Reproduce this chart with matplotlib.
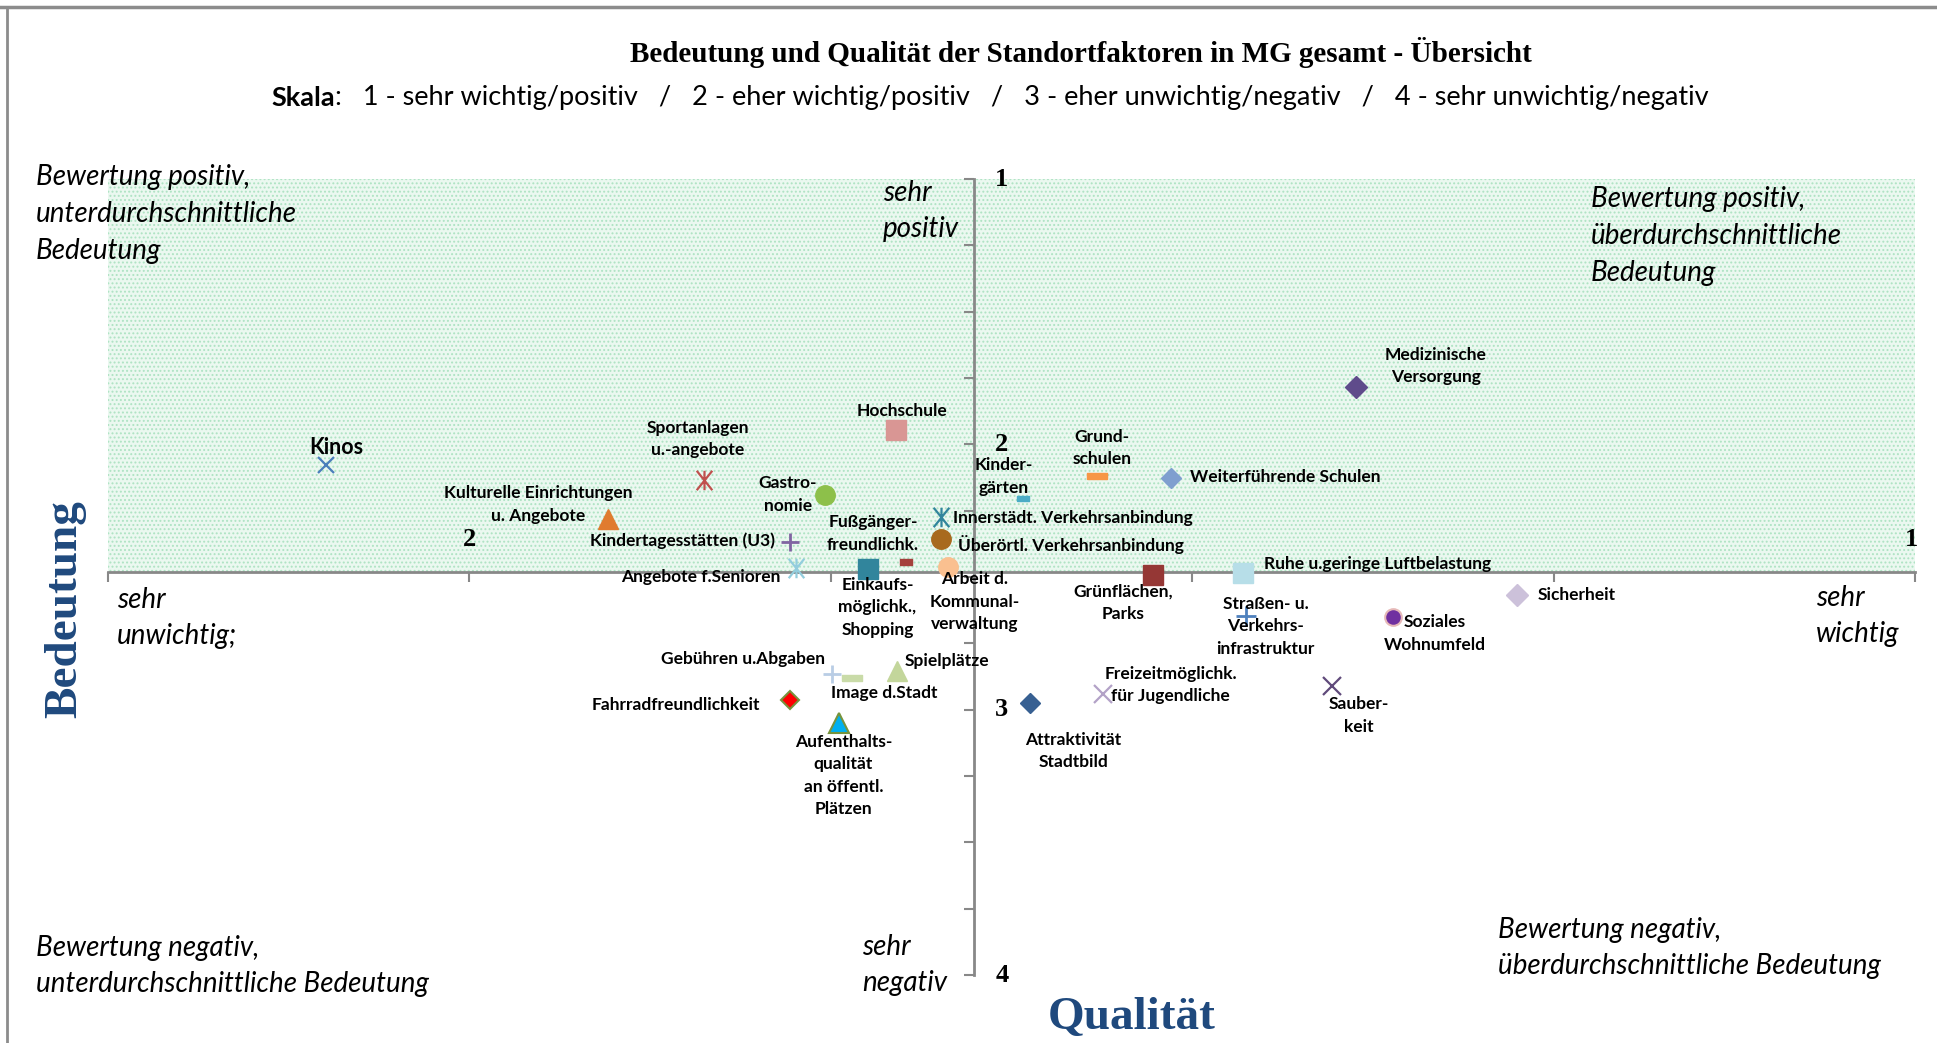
import numpy as np
import matplotlib
matplotlib.use("Agg")
import matplotlib.pyplot as plt
from matplotlib.lines import Line2D
from matplotlib.path import Path

# Standortfaktoren: Bedeutung (x, 1 = sehr wichtig) und Qualität (y, 1 = sehr positiv)
names = [
    "Kinos", "Sportanlagen\nu.-angebote", "Kulturelle Einrichtungen\nu. Angebote", "Hochschule",
    "Gastro-\nnomie", "Kindertagesstätten (U3)", "Angebote f.Senioren", "Fußgänger-\nfreundlichk.",
    "Einkaufs-\nmöglichk.,\nShopping", "Innerstädt. Verkehrsanbindung", "Überörtl. Verkehrsanbindung",
    "Arbeit d.\nKommunal-\nverwaltung", "Kinder-\ngärten", "Grund-\nschulen", "Weiterführende Schulen",
    "Medizinische\nVersorgung", "Grünflächen,\nParks", "Ruhe u.geringe Luftbelastung", "Sicherheit",
    "Straßen- u.\nVerkehrs-\ninfrastruktur", "Soziales\nWohnumfeld", "Sauber-\nkeit",
    "Freizeitmöglichk.\nfür Jugendliche", "Attraktivität\nStadtbild", "Spielplätze", "Image d.Stadt",
    "Gebühren u.Abgaben", "Fahrradfreundlichkeit", "Aufenthalts-\nqualität\nan öffentl.\nPlätzen",
]
bedeutung = [
    2.099, 1.838, 1.904, 1.705, 1.754, 1.778, 1.774, 1.698, 1.724, 1.674, 1.674, 1.669, 1.617,
    1.566, 1.515, 1.387, 1.527, 1.465, 1.275, 1.463, 1.361, 1.403, 1.562, 1.612, 1.704, 1.735,
    1.749, 1.778, 1.744,
]
qualitaet = [
    2.078, 2.134, 2.283, 1.947, 2.190, 2.367, 2.465, 2.442, 2.470, 2.274, 2.358, 2.461, 2.204,
    2.120, 2.125, 1.784, 2.493, 2.484, 2.568, 2.647, 2.652, 2.909, 2.941, 2.974, 2.853, 2.881,
    2.867, 2.965, 3.049,
]
# Mittelwerte, an denen sich die Achsen kreuzen
mean_bedeutung = 1.651
mean_qualitaet = 2.481

# rectangular "dash" markers of different proportions
dash = [(-1, -0.45), (1, -0.45), (1, 0.45), (-1, 0.45), (-1, -0.45)]
flat = [(-1, -0.3), (1, -0.3), (1, 0.3), (-1, 0.3), (-1, -0.3)]
# Excel-style star: an x with a vertical stroke
star = Path([(-0.8, -1), (0.8, 1), (-0.8, 1), (0.8, -1), (0, -1), (0, 1)],
            [Path.MOVETO, Path.LINETO] * 3)

markers = ["x", star, "^", "s", "o", "+", star, dash, "s", star, "o", "o", dash, flat, "D",
           "D", "s", "s", "D", "+", "o", "x", "x", "D", "^", flat, "+", "D", "^"]
colors = ["#4A7EBB", "#C0504D", "#E07B2F", "#D99694", "#8DC04A", "#8064A2", "#93CDDD", "#A5403D",
          "#31859C", "#31859C", "#A86A1E", "#FAC090", "#4BACC6", "#F79646", "#7F9FCF",
          "#5F4B8B", "#953735", "#B7DEE8", "#CCC1DA", "#4F81BD", "#7030A0", "#604A7B",
          "#B3A2C7", "#376092", "#C3D69B", "#C9DBA8", "#B9CDE5", "#FF0000", "#00B0F0"]
edges = list(colors)
edges[20] = "#E6B9B8"
edges[27] = "#77933C"
edges[28] = "#77933C"
sizes = [12, 14, 14, 14, 14, 13, 14, 9, 14, 14, 14, 14, 8, 15, 10,
         11, 14, 14, 11, 14, 12, 13, 13, 10, 14, 15, 13, 9, 14]
mew = [1.6, 1.6, 1, 1, 1, 2, 1.6, 1, 1, 1.6, 1, 1, 1, 1, 1,
       1, 1, 1, 1, 2, 1.5, 1.6, 1.6, 1, 1, 1, 2, 1.5, 1.5]

# label offsets in pixels and horizontal alignment
offsets = [(10, 18), (-6, 41), (-70, 15), (6, 19), (-37, 0), (-15, 1), (-16, -9), (-33, 28),
           (9, -38), (12, -1), (17, -5), (27, -35), (-19, 22), (5, 28), (19, 0),
           (80, 21), (-30, -28), (21, 9), (20, 0), (20, -10), (42, -16), (26, -30),
           (68, 9), (43, -48), (7, 10), (32, -15), (-7, 15), (-30, -5), (4, -53)]
aligns = ["center", "center", "center", "center", "center", "right", "right", "center",
          "center", "left", "left", "center", "center", "center", "left",
          "center", "center", "left", "left", "center", "center", "center",
          "center", "center", "left", "center", "right", "right", "center"]

label_font = ["Lato", "DejaVu Sans"]
serif = ["Liberation Serif", "DejaVu Serif"]
axis_grey = "#888888"
title_blue = "#1F497D"

W, H = 1937, 1043
fig = plt.figure(figsize=(W / 100, H / 100), dpi=100)
ax = fig.add_axes([108 / W, 1 - 975 / H, (1915 - 108) / W, (975 - 179) / H])
ax.set_xlim(2.25, 1.0)
ax.set_ylim(4.0, 1.0)

# upper half (above-average quality) shaded
plt.rcParams["hatch.linewidth"] = 0.9
ax.axhspan(1.0, mean_qualitaet, facecolor="#ebf8f0", edgecolor="#aee3c3", hatch="....",
           linewidth=0, zorder=0)

for s in ["top", "right"]:
    ax.spines[s].set_visible(False)
ax.spines["left"].set_position(("data", mean_bedeutung))
ax.spines["bottom"].set_position(("data", mean_qualitaet))
for s in ["left", "bottom"]:
    ax.spines[s].set_color(axis_grey)
    ax.spines[s].set_linewidth(2)
ax.set_xticks(np.arange(1.0, 2.26, 0.25))
ax.set_yticks(np.arange(1.0, 4.01, 0.25))
ax.set_xticklabels([])
ax.set_yticklabels([])
ax.tick_params(direction="out", length=7, width=1.5, color=axis_grey)

# scale numbers
for v in [2, 1]:
    ax.annotate(str(v), (v, mean_qualitaet), xytext=(-3 if v == 1 else 0, 32),
                textcoords="offset pixels", ha="center", va="center",
                fontsize=19, fontweight="bold", family=serif)
for v in [1, 2, 3, 4]:
    ax.annotate(str(v), (mean_bedeutung, v), xytext=(28, 0), textcoords="offset pixels",
                ha="center", va="center", fontsize=19, fontweight="bold", family=serif)

for i in range(len(names)):
    ax.plot(bedeutung[i], qualitaet[i], linestyle="none", marker=markers[i],
            markersize=sizes[i], color=colors[i], markeredgecolor=edges[i],
            markeredgewidth=mew[i], zorder=3)
    ax.annotate(names[i], (bedeutung[i], qualitaet[i]), xytext=offsets[i],
                textcoords="offset pixels", ha=aligns[i], va="center",
                multialignment="center", fontsize=15.5 if i == 0 else 12.5,
                fontweight="bold", family=label_font, linespacing=1.5, zorder=4)

# titles
fig.text(1081 / W, 1 - 53 / H, "Bedeutung und Qualität der Standortfaktoren in MG gesamt - Übersicht",
         ha="center", va="center", fontsize=21, fontweight="bold", family=serif)
fig.text(335 / W, 1 - 98 / H, "Skala", ha="right", va="center", fontsize=19.5,
         fontweight="bold", family=label_font)
fig.text(335 / W, 1 - 98 / H,
         ":   1 - sehr wichtig/positiv   /   2 - eher wichtig/positiv   /   "
         "3 - eher unwichtig/negativ   /   4 - sehr unwichtig/negativ",
         ha="left", va="center", fontsize=19.5, family=label_font)

fig.text(65 / W, 1 - 609 / H, "Bedeutung", rotation=90, ha="center", va="center",
         fontsize=34, fontweight="bold", color=title_blue, family=serif)
fig.text(1132 / W, 1 - 1018 / H, "Qualität", ha="center", va="center",
         fontsize=34, fontweight="bold", color=title_blue, family=serif)

# quadrant and scale end notes (left edge, vertical centre of the block)
notes = [
    (36, 214, "Bewertung positiv,\nunterdurchschnittliche\nBedeutung"),
    (1591, 236, "Bewertung positiv,\nüberdurchschnittliche\nBedeutung"),
    (36, 966, "Bewertung negativ,\nunterdurchschnittliche Bedeutung"),
    (1498, 948, "Bewertung negativ,\nüberdurchschnittliche Bedeutung"),
    (883, 211, "sehr\npositiv"),
    (862, 965, "sehr\nnegativ"),
    (117, 618, "sehr\nunwichtig;"),
    (1816, 616, "sehr\nwichtig"),
]
for x, y, t in notes:
    fig.text(x / W, 1 - y / H, t, ha="left", va="center", fontsize=20,
             style="italic", family=label_font, linespacing=1.52)

# frame lines at top and left
fig.add_artist(Line2D([0, 1], [1 - 7 / H, 1 - 7 / H], color="#8c8c8c", lw=2.5))
fig.add_artist(Line2D([7 / W, 7 / W], [0, 1 - 7 / H], color="#8c8c8c", lw=2))

fig.savefig("out.png", dpi=100, facecolor="white")
